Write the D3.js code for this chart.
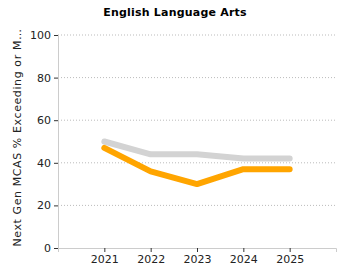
<!DOCTYPE html>
<html>
<head>
<meta charset="utf-8">
<script src="https://cdn.jsdelivr.net/npm/d3@7"></script>
<style>
  body { margin: 0; background: #fff; }
  text { font-family: "DejaVu Sans", Verdana, sans-serif; }
</style>
</head>
<body>
<div id="chart"></div>
<script>
const years = [2021, 2022, 2023, 2024, 2025];
const stateValues = [50, 44, 44, 42, 42];
const schoolValues = [47, 36, 30, 37, 37];
const yTicks = [0, 20, 40, 60, 80, 100];

const margin = { top: 35, right: 14, bottom: 32, left: 58 };
const width = 350 - margin.left - margin.right;
const height = 280 - margin.top - margin.bottom;

const svg = d3.select("#chart").append("svg")
  .attr("width", 350)
  .attr("height", 280)
  .append("g")
  .attr("transform", `translate(${margin.left},${margin.top})`);

const x = d3.scaleLinear().domain([2020, 2026]).range([0, width]);
const y = d3.scaleLinear().domain([0, 100]).range([height, 0]);

// Gridlines
svg.selectAll(".grid")
  .data(yTicks.filter(d => d > 0))
  .enter()
  .append("line")
  .attr("x1", 0)
  .attr("x2", width)
  .attr("y1", d => y(d))
  .attr("y2", d => y(d))
  .attr("stroke", "#bbb")
  .attr("stroke-dasharray", "1,2");

// Axes
const xAxis = svg.append("g")
  .attr("transform", `translate(0,${height})`)
  .call(d3.axisBottom(x).tickValues(years).tickFormat(d3.format("d")).tickSize(4));

const yAxis = svg.append("g")
  .call(d3.axisLeft(y).tickValues(yTicks).tickSize(4));

[xAxis, yAxis].forEach(g => {
  g.select(".domain").attr("stroke", "#ccc");
  g.selectAll(".tick line").attr("stroke", "#333");
  g.selectAll(".tick text").style("font-size", "11px").attr("fill", "#222");
});
xAxis.selectAll(".tick text").attr("dy", "0.75em");

const line = d3.line()
  .x((d, i) => x(years[i]))
  .y(d => y(d));

svg.append("path")
  .datum(stateValues)
  .attr("fill", "none")
  .attr("stroke", "#d3d3d3")
  .attr("stroke-width", 6)
  .attr("stroke-linecap", "round")
  .attr("stroke-linejoin", "round")
  .attr("d", line);

svg.append("path")
  .datum(schoolValues)
  .attr("fill", "none")
  .attr("stroke", "#ffa500")
  .attr("stroke-width", 6)
  .attr("stroke-linecap", "round")
  .attr("stroke-linejoin", "round")
  .attr("d", line);

// Title
svg.append("text")
  .attr("x", 175 - margin.left)
  .attr("y", -19)
  .attr("text-anchor", "middle")
  .style("font-size", "11px")
  .style("font-weight", "bold")
  .style("letter-spacing", "0.2px")
  .text("English Language Arts");

// Y label
svg.append("text")
  .attr("transform", "rotate(-90)")
  .attr("x", -height / 2 + 4)
  .attr("y", -37)
  .attr("text-anchor", "middle")
  .style("font-size", "11px")
  .style("letter-spacing", "0.6px")
  .attr("fill", "#222")
  .text("Next Gen MCAS % Exceeding or M…");
</script>
</body>
</html>
